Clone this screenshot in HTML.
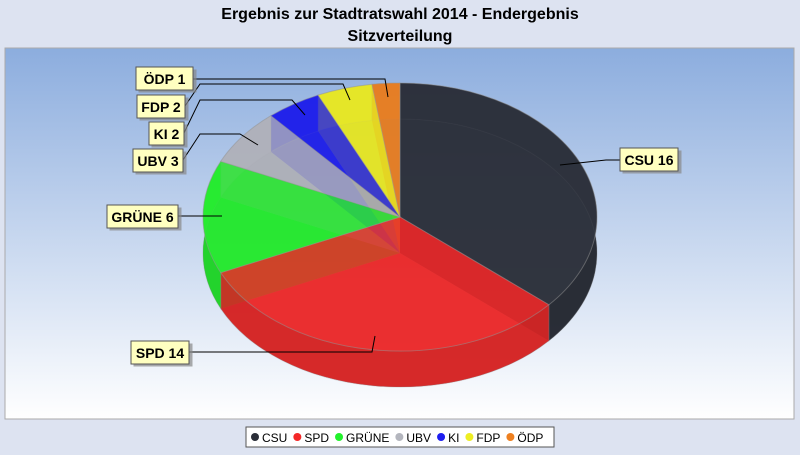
<!DOCTYPE html>
<html><head><meta charset="utf-8"><style>
body{margin:0;width:800px;height:450px;background:#dde3f1;font-family:"Liberation Sans",sans-serif;overflow:hidden}
</style></head><body>
<svg width="800" height="450" xmlns="http://www.w3.org/2000/svg" id="chart">
<defs>
<linearGradient id="bg" x1="0" y1="0" x2="0" y2="1"><stop offset="0" stop-color="#8cadde"/><stop offset="1" stop-color="#ffffff"/></linearGradient>
<filter id="sh"><feDropShadow dx="3" dy="3" stdDeviation="0" flood-color="#888" flood-opacity="0.7"/></filter>
</defs>
<text x="400" y="19" text-anchor="middle" font-size="16" font-weight="bold">Ergebnis zur Stadtratswahl 2014 - Endergebnis</text>
<text x="400" y="41" text-anchor="middle" font-size="16" font-weight="bold">Sitzverteilung</text>
<rect x="5" y="48" width="789" height="371" fill="url(#bg)" stroke="#aaa"/>
<g id="pie"></g>
<g id="labels"></g>
<g id="legend"></g>
</svg>
<script>
const categories=["CSU","SPD","GRÜNE","UBV","KI","FDP","ÖDP"];
const seats=[16,14,6,3,2,2,1];
const colors=["#2a2e38","#f42828","#22f22c","#b4b6be","#1e1ef0","#eeee22","#ee8020"];
const NS="http://www.w3.org/2000/svg";
const cx=400,cy=217,rx=197,ry=134,depth=36;
const total=seats.reduce((a,b)=>a+b,0);
function pt(a,dy){return [cx+rx*Math.sin(a),cy-ry*Math.cos(a)+(dy||0)];}
function mk(tag,attrs,parent){const e=document.createElementNS(NS,tag);for(const k in attrs)e.setAttribute(k,attrs[k]);parent.appendChild(e);return e;}
function shade(hex,f){const n=parseInt(hex.slice(1),16);let r=(n>>16)&255,g=(n>>8)&255,b=n&255;return `rgb(${Math.round(r*f)},${Math.round(g*f)},${Math.round(b*f)})`;}
const pie=document.getElementById('pie');
const slices=[];let acc=0;
seats.forEach((v,i)=>{const a0=acc/total*2*Math.PI;acc+=v;const a1=acc/total*2*Math.PI;slices.push([a0,a1]);});
function arc(a0,a1,dy,rev){const e=pt(rev?a0:a1,dy);const large=(a1-a0)>Math.PI?1:0;return `A${rx},${ry} 0 ${large} ${rev?0:1} ${e[0]},${e[1]}`;}
slices.forEach(([a0,a1],i)=>{const s=pt(a0,depth);
const p=mk('path',{d:`M${cx},${cy+depth} L${s[0]},${s[1]} ${arc(a0,a1,depth)} Z`,fill:shade(colors[i],0.8),'fill-opacity':0.8},pie);

});
slices.forEach(([a0,a1],i)=>{[a0,a1].forEach(a=>{const t=pt(a,0),b=pt(a,depth);
const p=mk('path',{d:`M${cx},${cy} L${t[0]},${t[1]} L${b[0]},${b[1]} L${cx},${cy+depth} Z`,fill:shade(colors[i],0.85),'fill-opacity':0.5},pie);

});});
slices.forEach(([a0,a1],i)=>{const s=pt(a0,0),e=pt(a1,depth);
const p=mk('path',{d:`M${s[0]},${s[1]} ${arc(a0,a1,0)} L${e[0]},${e[1]} ${arc(a0,a1,depth,true)} Z`,fill:shade(colors[i],0.88),'fill-opacity':0.85,stroke:'#888','stroke-opacity':0.3},pie);

});
slices.forEach(([a0,a1],i)=>{const s=pt(a0,0);
const p=mk('path',{d:`M${cx},${cy} L${s[0]},${s[1]} ${arc(a0,a1,0)} Z`,fill:colors[i],'fill-opacity':0.76,stroke:'#999','stroke-opacity':0.4},pie);

});
const labelBoxes=[[620,148,58],[131,341,58],[107,205,71],[133,149,50],[149,122,35],[137,95,48],[136,67,57]];
const leaders=[[[620,160],[606,160],[560,165]],[[189,352],[372,352],[375,336]],[[178,216],[208,216],[222,216]],[[183,160],[200,134],[240,134],[258,145]],[[184,133],[200,100],[292,100],[305,115]],[[185,106],[200,84],[343,84],[350,100]],[[193,79],[385,79],[388,97]]];
const lg=document.getElementById('labels');
categories.forEach((c,i)=>{const [x,y,w]=labelBoxes[i];
const l=mk('polyline',{points:leaders[i].map(p=>p.join(',')).join(' '),fill:'none',stroke:'#000','stroke-width':1},lg);


const r=mk('rect',{x:x,y:y,width:w,height:23,fill:'#ffffc0',stroke:'#555',filter:'url(#sh)'},lg);


const t=mk('text',{x:x+w/2,y:y+17,'text-anchor':'middle','font-size':14,'font-weight':'bold'},lg);
t.textContent=c+' '+seats[i];

});
const leg=document.getElementById('legend');
const lr=mk('rect',{x:246,y:427,width:308,height:20,fill:'#fff',stroke:'#555'},leg);


let lx=251;
categories.forEach((c,i)=>{
const d=mk('circle',{cx:lx+4,cy:437,r:4,fill:colors[i]},leg);


const t=mk('text',{x:lx+11,y:442,'font-size':12},leg);
t.textContent=c;


lx+=11+t.getComputedTextLength()+6;});
</script>
</body></html>
